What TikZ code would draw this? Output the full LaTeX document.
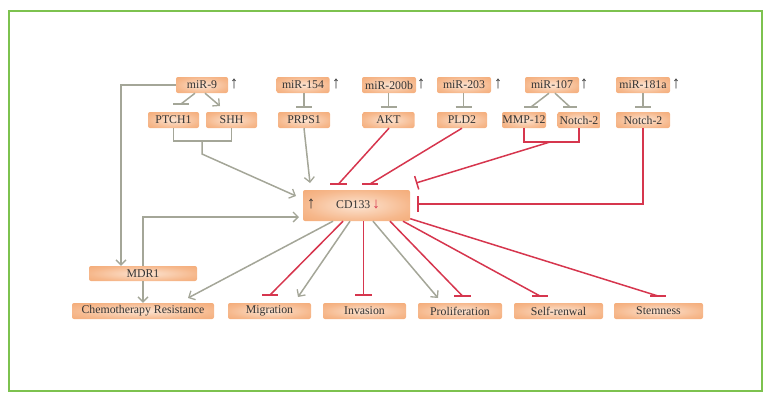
\documentclass[tikz,border=0pt]{standalone}
\usepackage{fontspec}
\setmainfont{Liberation Serif}
\usetikzlibrary{arrows.meta}
\definecolor{gcol}{HTML}{A4A698}
\definecolor{rcol}{HTML}{D6364E}
\definecolor{bdark}{HTML}{F19C60}
\definecolor{bmid}{HTML}{F6B88C}
\definecolor{blight}{HTML}{FCE4D2}
\definecolor{tcol}{HTML}{333333}
\definecolor{framegreen}{HTML}{7DC24F}
\pgfdeclareradialshading{boxshade}{\pgfpoint{0bp}{0bp}}{color(0bp)=(blight); color(25bp)=(bmid); color(50bp)=(bdark); color(100bp)=(bdark)}
\begin{document}
\begin{tikzpicture}[x=1pt,y=-1pt,
  font=\fontsize{11.8}{13}\selectfont,
  box/.style={rectangle, rounded corners=2pt, shading=boxshade, shade, minimum height=16pt, inner sep=0pt, text=tcol},
  gl/.style={draw=gcol, line width=1.5pt},
  rl/.style={draw=rcol, line width=1.5pt},
  ga/.style={gl, -{Straight Barb[length=5pt,width=10pt,line width=1.3pt]}},
  upar/.style={text=tcol, inner sep=0pt, font=\fontsize{17}{17}\selectfont},
]
\useasboundingbox (0,0) rectangle (771,402);
\draw[draw=framegreen, line width=2pt] (9,11) rectangle (762,391);

% top row
\node[box, minimum width=52pt] (m9)   at (202,85)   {miR-9};
\node[box, minimum width=53pt] (m154) at (303,85)   {miR-154};
\node[box, minimum width=54pt] (m200) at (389,85)   {miR-200b};
\node[box, minimum width=54pt] (m203) at (464,85)   {miR-203};
\node[box, minimum width=54pt] (m107) at (552,85)   {miR-107};
\node[box, minimum width=54pt] (m181) at (643,85)   {miR-181a};
\node[upar] (u9)   at (234,84) {↑};
\node[upar] (u154) at (336,84) {↑};
\node[upar] (u200) at (421,84) {↑};
\node[upar] (u203) at (498,84) {↑};
\node[upar] (u107) at (584,84) {↑};
\node[upar] (u181) at (676,84) {↑};

% second row
\node[box, minimum width=51pt] (ptch) at (173.5,120) {PTCH1};
\node[box, minimum width=51pt] (shh)  at (231.5,120) {SHH};
\node[box, minimum width=52pt] (prps) at (304,120)   {PRPS1};
\node[box, minimum width=52pt] (akt)  at (388.5,120) {AKT};
\node[box, minimum width=50pt] (pld)  at (462,120)   {PLD2};
\node[box, minimum width=44pt] (mmp)  at (524,120)   {MMP-12};
\node[box, minimum width=43pt] (nta)  at (579,120)   {Notch-2};
\node[box, minimum width=54pt] (ntb)  at (643,120)   {Notch-2};

% CD133
\node[box, minimum width=107pt, minimum height=31pt] (cd) at (356.5,205.5) {};
\node[text=tcol, inner sep=0pt] (cdt) at (358,205) {CD133\,{\fontsize{15}{15}\selectfont\textcolor{rcol}{↓}}};
\node[upar] (cdu) at (311,204) {↑};

% MDR1 and bottom row
\node[box, minimum width=108pt, minimum height=15pt] (mdr) at (143,273.5) {MDR1};
\node[box, minimum width=142pt] (chemo) at (143,311)   {Chemotherapy Resistance};
\node[box, minimum width=83pt]  (mig)   at (269.5,311) {Migration};
\node[box, minimum width=83pt]  (inv)   at (364.5,311) {Invasion};
\node[box, minimum width=84pt]  (pro)   at (460,311)   {Proliferation};
\node[box, minimum width=89pt]  (self)  at (558.5,311) {Self-renwal};
\node[box, minimum width=89pt]  (stem)  at (658.5,311) {Stemness};

% free-end coordinates
\coordinate (tptch) at (181,104);
\coordinate (tshh)  at (220,106);
\coordinate (tprps) at (304,107);
\coordinate (takt)  at (388.5,107);
\coordinate (tpld)  at (463.5,107);
\coordinate (tmmp)  at (531,107);
\coordinate (tnta)  at (570,107);
\coordinate (tntb)  at (643,107);
\coordinate (br1)   at (202,141);
\coordinate (br2)   at (550,142);
\coordinate (cdA)   at (296,196);
\coordinate (cdB)   at (310,183);
\coordinate (cdC)   at (338.5,184);
\coordinate (cdD)   at (370,184);
\coordinate (cdE)   at (416,183);
\coordinate (cdF)   at (417,204);
\coordinate (cdG)   at (299,217);
\coordinate (bmig)  at (270,295);
\coordinate (binv)  at (363.5,295);
\coordinate (bpro)  at (462.5,296);
\coordinate (bself) at (540,296);
\coordinate (bstem) at (658,296);

% miR-9
\draw[ga] (m9.west) -| ([xshift=-22pt]mdr.north);
\draw[gl] ([xshift=-7pt]m9.south) -- (tptch);
\draw[gl] (tptch) +(-8,0) -- +(8,0);
\draw[ga] ([xshift=3pt]m9.south) -- (tshh);
% other miRs
\draw[gl] (m154.south -| tprps) -- (tprps);
\draw[gl] (tprps) +(-8,0) -- +(8,0);
\draw[gl] (m200.south -| takt) -- (takt);
\draw[gl] (takt) +(-8,0) -- +(8,0);
\draw[gl] (m203.south -| tpld) -- (tpld);
\draw[gl] (tpld) +(-8,0) -- +(8,0);
\draw[gl] ([xshift=-3pt]m107.south) -- (tmmp);
\draw[gl] (tmmp) +(-7,0) -- +(7,0);
\draw[gl] ([xshift=3pt]m107.south) -- (tnta);
\draw[gl] (tnta) +(-7,0) -- +(7,0);
\draw[gl] (m181.south) -- (tntb);
\draw[gl] (tntb) +(-8,0) -- +(8,0);

% into CD133
\draw[gl] (ptch.south) |- (br1) -| (shh.south);
\draw[ga] (br1) -- ++(0,13) -- (cdA);
\draw[ga] (prps.south) -- (cdB);
\draw[rl] ([xshift=0.5pt]akt.south) -- (cdC);
\draw[rl] (cdC) +(-8.5,0) -- +(8.5,0);
\draw[rl] (pld.south) -- (cdD);
\draw[rl] (cdD) +(-8,0) -- +(8,0);
\draw[rl] (mmp.south) |- (br2) -| (nta.south);
\draw[rl, -{Bar[width=14pt,line width=1.5pt]}] (br2) -- (cdE);
\draw[rl, -{Bar[width=16pt,line width=1.5pt]}] (ntb.south) |- (cdF);
\draw[ga] (mdr.north) |- (cdG);
\draw[ga] (mdr.south) -- (chemo.north);

% out of CD133
\draw[ga] ([xshift=-23.5pt]cd.south) -- (188,298);
\draw[rl] ([xshift=-13.5pt]cd.south) -- (bmig);
\draw[rl] (bmig) +(-8,0) -- +(8,0);
\draw[ga] ([xshift=-6.5pt]cd.south) -- (298,297);
\draw[rl] ([xshift=7pt]cd.south) -- (binv);
\draw[rl] (binv) +(-8.5,0) -- +(8.5,0);
\draw[ga] ([xshift=16.5pt]cd.south) -- (438,298);
\draw[rl] ([xshift=33.5pt]cd.south) -- (bpro);
\draw[rl] (bpro) +(-8.5,0) -- +(8.5,0);
\draw[rl] ([xshift=46.5pt]cd.south) -- (bself);
\draw[rl] (bself) +(-8,0) -- +(8,0);
\draw[rl] ([yshift=2.5pt]cd.south east) -- (bstem);
\draw[rl] (bstem) +(-8,0) -- +(8,0);
\end{tikzpicture}
\end{document}
